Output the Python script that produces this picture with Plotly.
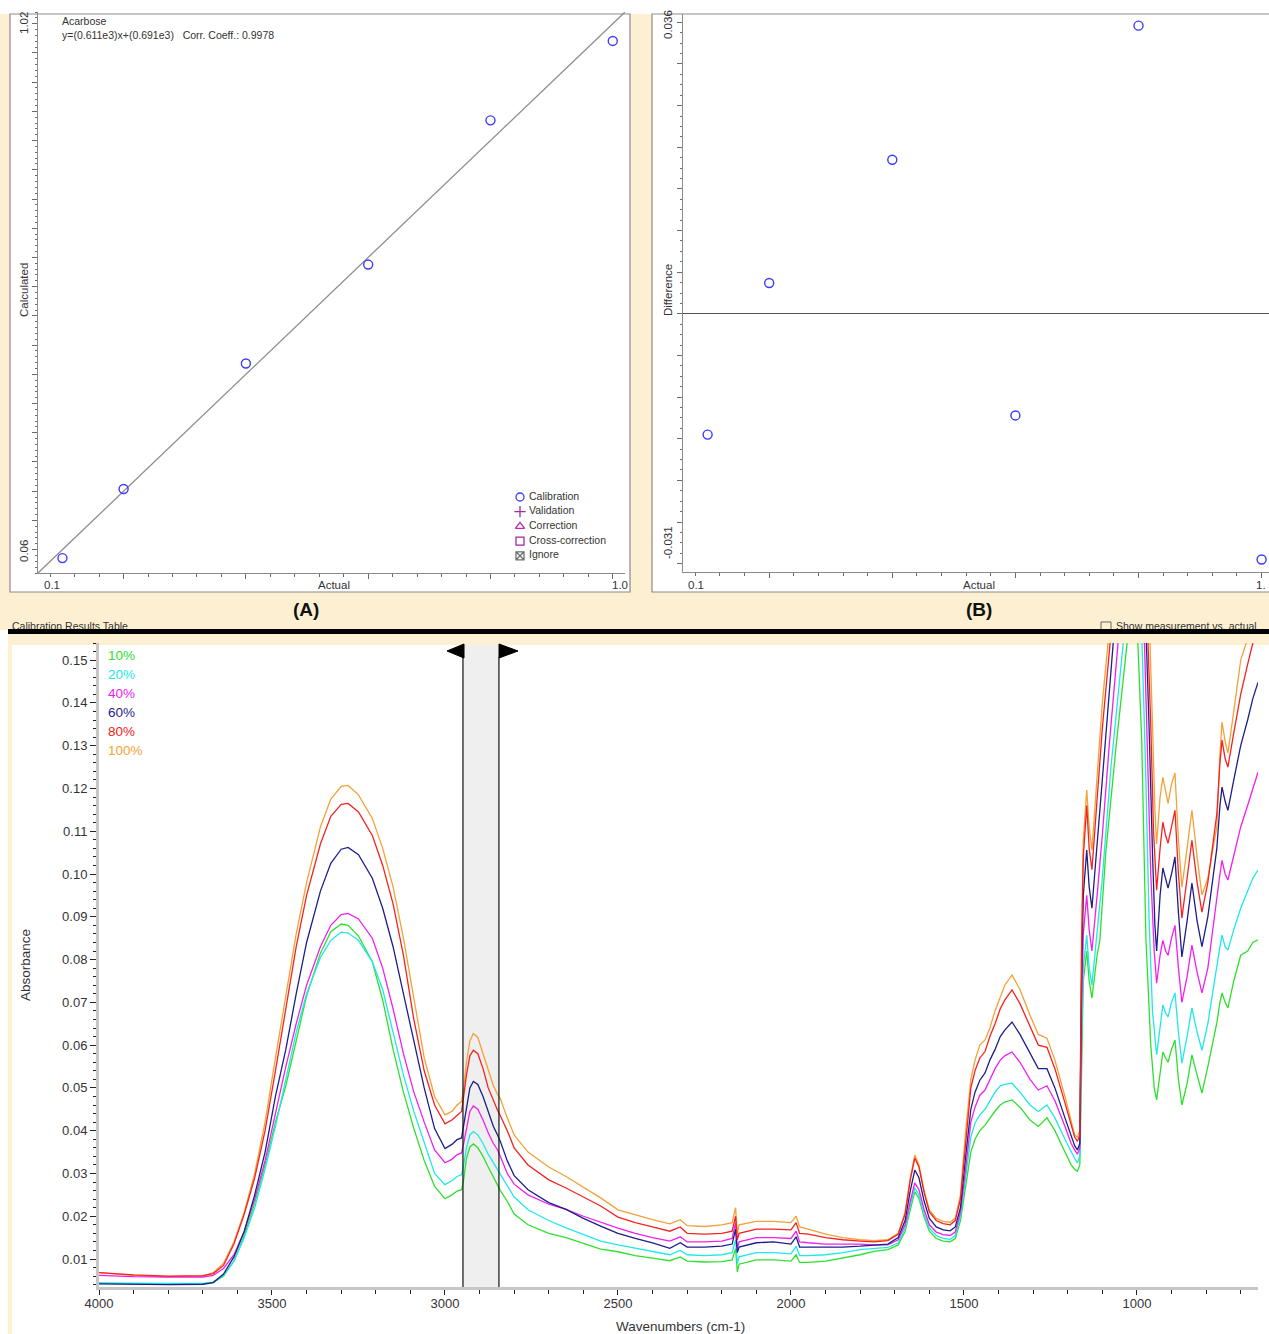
import plotly.graph_objects as go

W, H = 1269, 1334

# ---------------- calibration data (panels A and B) ----------------
actual = [0.1, 0.2, 0.4, 0.6, 0.8, 1.0]
calculated = [0.0855, 0.2037, 0.4185, 0.5878, 0.8346, 0.9705]
difference = [-0.0145, 0.0037, 0.0185, -0.0122, 0.0346, -0.0295]
fit_x = [0.06, 1.02]
fit_y = [0.06, 1.02]
calib_range = [0.06, 1.02]
diff_range = [-0.031, 0.036]

calib_legend = ["Calibration", "Validation", "Correction", "Cross-correction", "Ignore"]

# ---------------- spectra (wavenumber cm-1, absorbance) ----------------
spec_10 = [(4000, 0.0043), (3900, 0.0042), (3800, 0.0041), (3700, 0.0042), (3670, 0.0045), (3640, 0.0060), (3610, 0.0095), (3580, 0.0155), (3550, 0.0230), (3520, 0.0320), (3490, 0.0420), (3460, 0.0505), (3430, 0.0610), (3400, 0.0715), (3360, 0.0815), (3330, 0.0865), (3300, 0.0883), (3280, 0.0880), (3250, 0.0855), (3210, 0.0795), (3180, 0.0705), (3150, 0.0590), (3120, 0.0490), (3090, 0.0405), (3060, 0.0330), (3030, 0.0270), (3000, 0.0241),
           (2980, 0.0250), (2965, 0.0259), (2952, 0.0262), (2946, 0.0285), (2938, 0.0335), (2928, 0.0362), (2918, 0.0369), (2905, 0.0360), (2890, 0.0340), (2875, 0.0315), (2860, 0.0290), (2848, 0.0270), (2840, 0.0260), (2820, 0.0235), (2800, 0.0205), (2760, 0.0180), (2700, 0.0160), (2650, 0.0150), (2600, 0.0137), (2550, 0.0123),
           (2500, 0.0117), (2450, 0.0108), (2400, 0.0102), (2350, 0.0096), (2320, 0.0105), (2300, 0.0095), (2250, 0.0093), (2200, 0.0094), (2170, 0.0098), (2160, 0.0125), (2155, 0.0070), (2150, 0.0088), (2100, 0.0098), (2050, 0.0098), (2000, 0.0095), (1985, 0.0110), (1975, 0.0092), (1950, 0.0092), (1900, 0.0095), (1850, 0.0102), (1800, 0.0110),
           (1760, 0.0118), (1720, 0.0122), (1690, 0.0133), (1670, 0.0165), (1655, 0.0215), (1642, 0.0257), (1630, 0.0242), (1615, 0.0198), (1600, 0.0165), (1580, 0.0148), (1560, 0.0142), (1540, 0.0140), (1525, 0.0148),
           (1510, 0.0190), (1495, 0.0270), (1480, 0.0350), (1468, 0.0380), (1454, 0.0400), (1439, 0.0413), (1425, 0.0430), (1410, 0.0446), (1395, 0.0460), (1382, 0.0467), (1361, 0.0472), (1338, 0.0455), (1309, 0.0425), (1285, 0.0410), (1260, 0.0430), (1237, 0.0400), (1208, 0.0350), (1190, 0.0320), (1180, 0.0310),
           (1172, 0.0305), (1165, 0.0320), (1160, 0.0580), (1155, 0.0750), (1145, 0.0820), (1138, 0.0750), (1130, 0.0710), (1115, 0.0810), (1107, 0.0846), (1090, 0.1050), (1060, 0.1300), (1029, 0.1535), (1013, 0.1700), (997, 0.1535), (986, 0.1310), (974, 0.0850), (960, 0.0600), (950, 0.0500), (943, 0.0472),
           (933, 0.0540), (925, 0.0584), (917, 0.0570), (910, 0.0560), (900, 0.0590), (890, 0.0612), (880, 0.0520), (870, 0.0460), (855, 0.0510), (841, 0.0577), (826, 0.0530), (812, 0.0488), (795, 0.0550), (780, 0.0610), (769, 0.0652), (760, 0.0700), (754, 0.0722), (745, 0.0700), (737, 0.0687), (720, 0.0750), (700, 0.0810), (680, 0.0820), (665, 0.0840), (650, 0.0846)]

spec_20 = [(4000, 0.0044), (3900, 0.0043), (3800, 0.0043), (3700, 0.0043), (3670, 0.0046), (3640, 0.0062), (3610, 0.0095), (3580, 0.0150), (3550, 0.0220), (3520, 0.0310), (3490, 0.0410), (3460, 0.0520), (3430, 0.0630), (3400, 0.0720), (3360, 0.0805), (3330, 0.0845), (3300, 0.0864), (3280, 0.0862), (3250, 0.0845), (3210, 0.0795), (3180, 0.0730), (3150, 0.0630), (3120, 0.0530), (3090, 0.0445), (3060, 0.0370), (3030, 0.0300), (3000, 0.0274),
           (2980, 0.0283), (2965, 0.0293), (2952, 0.0297), (2946, 0.0320), (2938, 0.0360), (2928, 0.0390), (2918, 0.0398), (2905, 0.0390), (2890, 0.0370), (2875, 0.0345), (2860, 0.0325), (2848, 0.0310), (2840, 0.0300), (2820, 0.0270), (2800, 0.0245), (2760, 0.0215), (2700, 0.0190), (2650, 0.0173), (2600, 0.0157), (2550, 0.0142),
           (2500, 0.0133), (2450, 0.0125), (2400, 0.0118), (2350, 0.0110), (2320, 0.0120), (2300, 0.0110), (2250, 0.0108), (2200, 0.0110), (2170, 0.0115), (2160, 0.0145), (2155, 0.0090), (2150, 0.0105), (2100, 0.0115), (2050, 0.0115), (2000, 0.0112), (1985, 0.0130), (1975, 0.0108), (1950, 0.0108), (1900, 0.0110), (1850, 0.0115), (1800, 0.0122),
           (1760, 0.0125), (1720, 0.0127), (1690, 0.0138), (1670, 0.0172), (1655, 0.0225), (1642, 0.0266), (1630, 0.0250), (1615, 0.0205), (1600, 0.0172), (1580, 0.0155), (1560, 0.0148), (1540, 0.0146), (1525, 0.0155),
           (1510, 0.0200), (1495, 0.0290), (1480, 0.0385), (1468, 0.0418), (1454, 0.0437), (1439, 0.0450), (1425, 0.0470), (1410, 0.0490), (1395, 0.0505), (1382, 0.0508), (1361, 0.0511), (1338, 0.0490), (1309, 0.0460), (1285, 0.0445), (1260, 0.0460), (1237, 0.0430), (1208, 0.0380), (1190, 0.0350), (1180, 0.0335),
           (1172, 0.0325), (1165, 0.0340), (1160, 0.0620), (1155, 0.0780), (1145, 0.0857), (1138, 0.0780), (1130, 0.0740), (1115, 0.0860), (1100, 0.0990), (1075, 0.1250), (1040, 0.1535), (1015, 0.1850), (995, 0.1700), (985, 0.1535), (975, 0.1250), (965, 0.0900), (955, 0.0680), (943, 0.0577),
           (933, 0.0650), (925, 0.0694), (917, 0.0675), (910, 0.0666), (900, 0.0700), (890, 0.0722), (880, 0.0630), (870, 0.0558), (855, 0.0620), (841, 0.0687), (826, 0.0630), (812, 0.0588), (795, 0.0650), (780, 0.0730), (769, 0.0780), (760, 0.0830), (754, 0.0857), (745, 0.0830), (737, 0.0822), (720, 0.0870), (700, 0.0920), (680, 0.0960), (665, 0.0990), (650, 0.1009)]

spec_40 = [(4000, 0.0062), (3900, 0.0059), (3800, 0.0058), (3700, 0.0058), (3670, 0.0062), (3640, 0.0078), (3610, 0.0110), (3580, 0.0165), (3550, 0.0240), (3520, 0.0330), (3490, 0.0440), (3460, 0.0550), (3430, 0.0650), (3400, 0.0740), (3360, 0.0830), (3330, 0.0880), (3300, 0.0905), (3280, 0.0908), (3250, 0.0895), (3210, 0.0850), (3180, 0.0780), (3150, 0.0685), (3120, 0.0580), (3090, 0.0490), (3060, 0.0420), (3030, 0.0355), (3000, 0.0325),
           (2980, 0.0333), (2965, 0.0344), (2952, 0.0348), (2946, 0.0370), (2938, 0.0405), (2928, 0.0445), (2918, 0.0458), (2905, 0.0450), (2890, 0.0425), (2875, 0.0395), (2860, 0.0370), (2848, 0.0355), (2840, 0.0340), (2820, 0.0300), (2800, 0.0275), (2760, 0.0250), (2700, 0.0228), (2650, 0.0216), (2600, 0.0200), (2550, 0.0186),
           (2500, 0.0172), (2450, 0.0160), (2400, 0.0150), (2350, 0.0142), (2320, 0.0152), (2300, 0.0140), (2250, 0.0140), (2200, 0.0142), (2170, 0.0148), (2160, 0.0185), (2155, 0.0125), (2150, 0.0140), (2100, 0.0150), (2050, 0.0150), (2000, 0.0148), (1985, 0.0165), (1975, 0.0140), (1950, 0.0138), (1900, 0.0135), (1850, 0.0135), (1800, 0.0135),
           (1760, 0.0133), (1720, 0.0133), (1690, 0.0145), (1670, 0.0180), (1655, 0.0235), (1642, 0.0278), (1630, 0.0262), (1615, 0.0215), (1600, 0.0180), (1580, 0.0163), (1560, 0.0157), (1540, 0.0155), (1525, 0.0163),
           (1510, 0.0210), (1495, 0.0310), (1480, 0.0420), (1468, 0.0455), (1454, 0.0483), (1439, 0.0495), (1425, 0.0520), (1410, 0.0545), (1395, 0.0565), (1382, 0.0575), (1361, 0.0584), (1338, 0.0560), (1309, 0.0520), (1285, 0.0495), (1260, 0.0505), (1237, 0.0470), (1208, 0.0410), (1190, 0.0370), (1180, 0.0355),
           (1172, 0.0345), (1165, 0.0360), (1160, 0.0680), (1155, 0.0860), (1145, 0.0950), (1138, 0.0870), (1130, 0.0820), (1115, 0.0950), (1100, 0.1090), (1080, 0.1300), (1055, 0.1535), (1030, 0.1850), (1010, 0.2000), (990, 0.1800), (978, 0.1535), (970, 0.1300), (960, 0.1000), (950, 0.0820), (943, 0.0745),
           (933, 0.0810), (925, 0.0845), (917, 0.0820), (910, 0.0810), (900, 0.0850), (890, 0.0880), (880, 0.0780), (870, 0.0700), (855, 0.0760), (841, 0.0834), (826, 0.0770), (812, 0.0722), (795, 0.0780), (780, 0.0880), (769, 0.0940), (760, 0.1000), (754, 0.1032), (745, 0.1000), (737, 0.0986), (720, 0.1040), (700, 0.1110), (680, 0.1160), (665, 0.1200), (650, 0.1238)]

spec_60 = [(4000, 0.0042), (3900, 0.0041), (3800, 0.0040), (3700, 0.0041), (3670, 0.0045), (3640, 0.0065), (3610, 0.0105), (3580, 0.0165), (3550, 0.0250), (3520, 0.0350), (3490, 0.0480), (3460, 0.0590), (3430, 0.0720), (3400, 0.0840), (3360, 0.0960), (3330, 0.1025), (3300, 0.1058), (3280, 0.1062), (3250, 0.1045), (3210, 0.0990), (3180, 0.0920), (3150, 0.0830), (3120, 0.0720), (3090, 0.0615), (3060, 0.0500), (3030, 0.0405), (3000, 0.0358),
           (2980, 0.0368), (2965, 0.0379), (2952, 0.0383), (2946, 0.0410), (2938, 0.0450), (2928, 0.0500), (2918, 0.0515), (2905, 0.0508), (2890, 0.0480), (2875, 0.0445), (2860, 0.0410), (2848, 0.0390), (2840, 0.0375), (2820, 0.0330), (2800, 0.0295), (2760, 0.0262), (2700, 0.0232), (2650, 0.0216), (2600, 0.0195), (2550, 0.0177),
           (2500, 0.0160), (2450, 0.0148), (2400, 0.0138), (2350, 0.0125), (2320, 0.0138), (2300, 0.0128), (2250, 0.0128), (2200, 0.0130), (2170, 0.0135), (2160, 0.0170), (2155, 0.0115), (2150, 0.0128), (2100, 0.0138), (2050, 0.0140), (2000, 0.0135), (1985, 0.0152), (1975, 0.0128), (1950, 0.0128), (1900, 0.0128), (1850, 0.0128), (1800, 0.0130),
           (1760, 0.0133), (1720, 0.0135), (1690, 0.0150), (1670, 0.0190), (1655, 0.0260), (1642, 0.0308), (1630, 0.0290), (1615, 0.0235), (1600, 0.0195), (1580, 0.0175), (1560, 0.0168), (1540, 0.0166), (1525, 0.0175),
           (1510, 0.0220), (1495, 0.0340), (1480, 0.0450), (1468, 0.0490), (1454, 0.0518), (1439, 0.0535), (1425, 0.0565), (1410, 0.0590), (1395, 0.0620), (1382, 0.0635), (1361, 0.0654), (1338, 0.0625), (1309, 0.0580), (1285, 0.0545), (1260, 0.0545), (1237, 0.0500), (1208, 0.0430), (1190, 0.0385), (1180, 0.0365),
           (1172, 0.0355), (1165, 0.0370), (1160, 0.0750), (1155, 0.0950), (1145, 0.1056), (1138, 0.0970), (1130, 0.0920), (1115, 0.1060), (1100, 0.1220), (1069, 0.1535), (1045, 0.1850), (1020, 0.2200), (995, 0.2100), (980, 0.1750), (972, 0.1535), (965, 0.1350), (955, 0.1050), (948, 0.0880), (943, 0.0820),
           (933, 0.0950), (925, 0.1014), (917, 0.0990), (910, 0.0967), (900, 0.1000), (890, 0.1040), (880, 0.0910), (870, 0.0806), (855, 0.0890), (841, 0.0979), (826, 0.0890), (812, 0.0830), (795, 0.0900), (780, 0.1000), (769, 0.1060), (760, 0.1160), (754, 0.1203), (745, 0.1170), (737, 0.1149), (720, 0.1220), (700, 0.1300), (680, 0.1360), (665, 0.1410), (650, 0.1448)]

spec_80 = [(4000, 0.0068), (3900, 0.0063), (3800, 0.0060), (3700, 0.0061), (3670, 0.0066), (3640, 0.0085), (3610, 0.0135), (3580, 0.0205), (3550, 0.0290), (3520, 0.0400), (3490, 0.0540), (3460, 0.0690), (3430, 0.0830), (3400, 0.0950), (3360, 0.1070), (3330, 0.1135), (3300, 0.1163), (3280, 0.1165), (3250, 0.1145), (3210, 0.1090), (3180, 0.1020), (3150, 0.0930), (3120, 0.0810), (3090, 0.0660), (3060, 0.0540), (3030, 0.0460), (3000, 0.0416),
           (2980, 0.0425), (2965, 0.0437), (2952, 0.0445), (2946, 0.0480), (2938, 0.0530), (2928, 0.0575), (2918, 0.0588), (2905, 0.0580), (2890, 0.0545), (2875, 0.0500), (2860, 0.0470), (2848, 0.0448), (2840, 0.0435), (2820, 0.0400), (2800, 0.0360), (2760, 0.0320), (2700, 0.0285), (2650, 0.0266), (2600, 0.0245), (2550, 0.0224),
           (2500, 0.0198), (2450, 0.0185), (2400, 0.0175), (2350, 0.0165), (2320, 0.0175), (2300, 0.0160), (2250, 0.0158), (2200, 0.0160), (2170, 0.0165), (2160, 0.0200), (2155, 0.0145), (2150, 0.0160), (2100, 0.0170), (2050, 0.0170), (2000, 0.0168), (1985, 0.0185), (1975, 0.0160), (1950, 0.0158), (1900, 0.0150), (1850, 0.0145), (1800, 0.0142),
           (1760, 0.0140), (1720, 0.0143), (1690, 0.0158), (1670, 0.0205), (1655, 0.0285), (1642, 0.0336), (1630, 0.0315), (1615, 0.0255), (1600, 0.0210), (1580, 0.0190), (1560, 0.0183), (1540, 0.0180), (1525, 0.0190),
           (1510, 0.0240), (1495, 0.0380), (1480, 0.0500), (1468, 0.0540), (1454, 0.0570), (1439, 0.0585), (1425, 0.0620), (1410, 0.0650), (1395, 0.0685), (1382, 0.0705), (1361, 0.0729), (1338, 0.0697), (1309, 0.0645), (1285, 0.0600), (1260, 0.0595), (1237, 0.0545), (1208, 0.0465), (1190, 0.0410), (1180, 0.0385),
           (1172, 0.0375), (1165, 0.0390), (1160, 0.0820), (1155, 0.1040), (1145, 0.1160), (1138, 0.1060), (1130, 0.1010), (1115, 0.1180), (1100, 0.1340), (1078, 0.1535), (1055, 0.1850), (1025, 0.2350), (1000, 0.2300), (978, 0.1800), (968, 0.1535), (960, 0.1350), (952, 0.1100), (943, 0.0962),
           (933, 0.1060), (925, 0.1121), (917, 0.1090), (910, 0.1072), (900, 0.1110), (890, 0.1149), (880, 0.1000), (870, 0.0897), (855, 0.0990), (841, 0.1079), (826, 0.0980), (812, 0.0911), (795, 0.0980), (780, 0.1080), (769, 0.1140), (760, 0.1260), (754, 0.1313), (745, 0.1270), (737, 0.1250), (720, 0.1330), (700, 0.1420), (680, 0.1490), (665, 0.1540), (650, 0.1580)]

spec_100 = [(4000, 0.0068), (3900, 0.0062), (3800, 0.0059), (3700, 0.0060), (3670, 0.0068), (3640, 0.0090), (3610, 0.0140), (3580, 0.0210), (3550, 0.0300), (3520, 0.0420), (3490, 0.0570), (3460, 0.0720), (3430, 0.0860), (3400, 0.0980), (3360, 0.1110), (3330, 0.1175), (3300, 0.1205), (3280, 0.1207), (3250, 0.1185), (3210, 0.1130), (3180, 0.1060), (3150, 0.0970), (3120, 0.0850), (3090, 0.0710), (3060, 0.0570), (3030, 0.0480), (3000, 0.0437),
            (2980, 0.0445), (2965, 0.0460), (2952, 0.0468), (2946, 0.0500), (2938, 0.0560), (2928, 0.0610), (2918, 0.0627), (2905, 0.0618), (2890, 0.0580), (2875, 0.0540), (2860, 0.0505), (2848, 0.0485), (2840, 0.0475), (2820, 0.0430), (2800, 0.0390), (2760, 0.0350), (2700, 0.0315), (2650, 0.0293), (2600, 0.0268), (2550, 0.0243),
            (2500, 0.0215), (2450, 0.0203), (2400, 0.0192), (2350, 0.0182), (2320, 0.0192), (2300, 0.0178), (2250, 0.0176), (2200, 0.0180), (2170, 0.0185), (2160, 0.0220), (2155, 0.0160), (2150, 0.0180), (2100, 0.0188), (2050, 0.0188), (2000, 0.0185), (1985, 0.0200), (1975, 0.0175), (1950, 0.0170), (1900, 0.0158), (1850, 0.0150), (1800, 0.0145),
            (1760, 0.0143), (1720, 0.0145), (1690, 0.0160), (1670, 0.0210), (1655, 0.0290), (1642, 0.0343), (1630, 0.0320), (1615, 0.0260), (1600, 0.0215), (1580, 0.0195), (1560, 0.0188), (1540, 0.0186), (1525, 0.0195),
            (1510, 0.0250), (1495, 0.0400), (1480, 0.0520), (1468, 0.0565), (1454, 0.0600), (1439, 0.0612), (1425, 0.0640), (1410, 0.0680), (1395, 0.0710), (1382, 0.0740), (1361, 0.0764), (1338, 0.0730), (1309, 0.0670), (1285, 0.0625), (1260, 0.0616), (1237, 0.0565), (1208, 0.0480), (1190, 0.0420), (1180, 0.0390),
            (1172, 0.0385), (1165, 0.0400), (1160, 0.0850), (1155, 0.1080), (1145, 0.1196), (1138, 0.1110), (1130, 0.1056), (1115, 0.1240), (1100, 0.1400), (1084, 0.1535), (1060, 0.1850), (1025, 0.2450), (1000, 0.2400), (975, 0.1850), (962, 0.1535), (955, 0.1350), (948, 0.1150), (943, 0.1070),
            (933, 0.1180), (925, 0.1226), (917, 0.1190), (910, 0.1165), (900, 0.1210), (890, 0.1236), (880, 0.1080), (870, 0.0969), (855, 0.1060), (841, 0.1149), (826, 0.1040), (812, 0.0951), (795, 0.0990), (780, 0.1060), (769, 0.1110), (760, 0.1280), (754, 0.1355), (745, 0.1310), (737, 0.1283), (720, 0.1380), (700, 0.1500), (680, 0.1550), (665, 0.1600), (650, 0.1650)]

series_labels = ["10%", "20%", "40%", "60%", "80%", "100%"]
series_colors = ["#2ee02e", "#20e8e8", "#f020f0", "#1e1e8a", "#f52222", "#f2a236"]
series_data = [spec_10, spec_20, spec_40, spec_60, spec_80, spec_100]
wn_range = [4000, 650]
abs_range = [0.00346, 0.1540]
band = [2948, 2844]

# ---------------- helpers (pixel -> paper) ----------------
def fx(px):
    return px / W

def fy(py):
    return 1 - py / H

FONT = "Liberation Sans, Arial, sans-serif"
fig = go.Figure()

# panel A
fig.add_trace(go.Scatter(x=fit_x, y=fit_y, mode="lines", line=dict(color="#8e8e8e", width=1.3),
                         xaxis="x", yaxis="y", hoverinfo="skip"))
fig.add_trace(go.Scatter(x=actual, y=calculated, mode="markers",
                         marker=dict(symbol="circle-open", size=9, color="#3b3bff", line=dict(width=1.4)),
                         xaxis="x", yaxis="y"))
# panel B
fig.add_trace(go.Scatter(x=actual, y=difference, mode="markers",
                         marker=dict(symbol="circle-open", size=9, color="#3b3bff", line=dict(width=1.4)),
                         xaxis="x2", yaxis="y2"))

# spectra
order = [5, 0, 1, 2, 3, 4]
for i in order:
    pts = series_data[i]
    fig.add_trace(go.Scatter(x=[p[0] for p in pts], y=[p[1] for p in pts], mode="lines",
                             line=dict(color=series_colors[i], width=1.3),
                             name=series_labels[i], xaxis="x3", yaxis="y3"))

# overlay (pixel coordinates of the top area) for legend glyphs and clipped texts
leg_sym = ["circle-open", "cross-thin-open", "triangle-up-open", "square-open", "square-x-open"]
leg_col = ["#3b3bff", "#a02aa0", "#b030b0", "#a02aa0", "#707070"]
for k in range(5):
    fig.add_trace(go.Scatter(x=[520], y=[497 + 14.7 * k], mode="markers",
                             marker=dict(symbol=leg_sym[k], size=8, color=leg_col[k], line=dict(width=1.3, color=leg_col[k])),
                             xaxis="x4", yaxis="y4", hoverinfo="skip"))
    fig.add_trace(go.Scatter(x=[529], y=[497 + 14.7 * k], mode="text", text=[calib_legend[k]],
                             textposition="middle right", textfont=dict(family=FONT, size=10.5, color="#333333"),
                             xaxis="x4", yaxis="y4", hoverinfo="skip"))
fig.add_trace(go.Scatter(x=[12], y=[627], mode="text", text=["Calibration Results Table"],
                         textposition="middle right", textfont=dict(family=FONT, size=10.5, color="#333333"),
                         xaxis="x4", yaxis="y4", hoverinfo="skip"))
fig.add_trace(go.Scatter(x=[1106], y=[627], mode="markers",
                         marker=dict(symbol="square-open", size=10, color="#666666", line=dict(width=1)),
                         xaxis="x4", yaxis="y4", hoverinfo="skip"))
fig.add_trace(go.Scatter(x=[1116], y=[627], mode="text", text=["Show measurement vs. actual"],
                         textposition="middle right", textfont=dict(family=FONT, size=10.5, color="#333333"),
                         xaxis="x4", yaxis="y4", hoverinfo="skip"))

axis_common = dict(showgrid=False, zeroline=False, showline=True, linecolor="#8a8a8a", linewidth=1,
                   ticks="outside", tickcolor="#6a6a6a", ticklen=5, showticklabels=False, automargin=False)

layout = dict(
    template="none",
    width=W, height=H, autosize=False,
    margin=dict(l=0, r=0, t=0, b=0, pad=0, autoexpand=False),
    paper_bgcolor="white", plot_bgcolor="rgba(0,0,0,0)", showlegend=False,
    font=dict(family=FONT, color="#333333"),
    xaxis=dict(domain=[fx(38), fx(625)], range=calib_range, anchor="y", tick0=0, dtick=0.2,
               minor=dict(tick0=0, dtick=0.04, ticks="outside", ticklen=3, tickcolor="#6a6a6a"), **axis_common),
    yaxis=dict(domain=[fy(573), fy(12)], range=calib_range, anchor="x", tick0=0, dtick=0.05,
               minor=dict(tick0=0, dtick=0.01, ticks="outside", ticklen=2, tickcolor="#6a6a6a"), **axis_common),
    xaxis2=dict(domain=[fx(683), 1.0], range=[0.06, 1.012], anchor="y2", tick0=0, dtick=0.2,
                minor=dict(tick0=0, dtick=0.04, ticks="outside", ticklen=3, tickcolor="#6a6a6a"), **axis_common),
    yaxis2=dict(domain=[fy(572), fy(14)], range=diff_range, anchor="x2", tick0=0, dtick=0.005,
                minor=dict(tick0=0, dtick=0.00125, ticks="outside", ticklen=2, tickcolor="#6a6a6a"),
                **{k: v for k, v in axis_common.items() if k != "zeroline"},
                zeroline=True, zerolinecolor="#555555", zerolinewidth=1),
    xaxis3=dict(domain=[fx(99), fx(1258)], range=wn_range, anchor="y3", showgrid=False, zeroline=False,
                showline=True, linecolor="#c6c6c6", linewidth=3, ticks="outside", ticklen=5, tickcolor="#222222",
                tick0=0, dtick=500, tickfont=dict(size=13, color="#333333"), automargin=False,
                ticklabelstandoff=-3,
                minor=dict(tick0=0, dtick=100, ticks="outside", ticklen=4, tickcolor="#222222")),
    yaxis3=dict(domain=[fy(1287), fy(643)], range=abs_range, anchor="x3", showgrid=False, zeroline=False,
                showline=True, linecolor="#c6c6c6", linewidth=3, ticks="outside", ticklen=6, tickcolor="#222222",
                tick0=0, dtick=0.01, tickformat=".2f", tickfont=dict(size=13, color="#333333"), automargin=False,
                minor=dict(tick0=0, dtick=0.002, ticks="outside", ticklen=3, tickcolor="#222222")),
    xaxis4=dict(domain=[0, 1], range=[0, W], anchor="y4", visible=False, fixedrange=True, automargin=False),
    yaxis4=dict(domain=[fy(630), fy(14)], range=[630, 14], anchor="x4", visible=False, fixedrange=True, automargin=False),
)

def rect(x0, y0, x1, y1, fill, line_color=None, lw=0, layer="below"):
    return dict(type="rect", xref="paper", yref="paper", x0=fx(x0), x1=fx(x1), y0=fy(y1), y1=fy(y0),
                fillcolor=fill, line=dict(color=line_color or fill, width=lw), layer=layer)

YEL = "#fdf0d2"
shapes = [
    rect(0, 14, W, 630, YEL),
    rect(10, 14, 630, 592, "white", "#8c8c8c", 1.2),
    rect(652, 14, W + 5, 592, "white", "#8c8c8c", 1.2),
    rect(10, 634, W, 645, YEL),
    rect(8, 634, 12, H, YEL),
    dict(type="rect", xref="x3", yref="paper", x0=band[0], x1=band[1], y0=fy(1287), y1=fy(645),
         fillcolor="#efefef", line=dict(width=0), layer="below"),
    dict(type="line", xref="x3", yref="paper", x0=band[0], x1=band[0], y0=fy(1287), y1=fy(657),
         line=dict(color="#111111", width=1.2), layer="above"),
    dict(type="line", xref="x3", yref="paper", x0=band[1], x1=band[1], y0=fy(1287), y1=fy(657),
         line=dict(color="#111111", width=1.2), layer="above"),
    dict(type="path", xref="paper", yref="paper",
         path=f"M {fx(447)},{fy(651)} L {fx(464)},{fy(644)} L {fx(464)},{fy(658)} Z",
         fillcolor="black", line=dict(color="black", width=1), layer="above"),
    dict(type="path", xref="paper", yref="paper",
         path=f"M {fx(518)},{fy(651)} L {fx(499)},{fy(644)} L {fx(499)},{fy(658)} Z",
         fillcolor="black", line=dict(color="black", width=1), layer="above"),
    rect(8, 629, W, 634, "black", layer="above"),
]
layout["shapes"] = shapes

def ann(x, y, text, size=11, color="#333333", angle=0, xanchor="center", bold=False):
    t = f"<b>{text}</b>" if bold else text
    return dict(x=fx(x), y=fy(y), xref="paper", yref="paper", text=t, showarrow=False,
                font=dict(family=FONT, size=size, color=color), textangle=angle,
                xanchor=xanchor, yanchor="middle")

anns = [
    ann(60, 21, "Acarbose", 10.5, xanchor="left"),
    ann(60, 35, "y=(0.611e3)x+(0.691e3)&nbsp;&nbsp; Corr. Coeff.: 0.9978", 10.5, xanchor="left"),
    ann(24, 23, "1.02", 11.5, angle=-90),
    ann(24, 551, "0.06", 11.5, angle=-90),
    ann(24, 290, "Calculated", 11.5, angle=-90),
    ann(52, 585, "0.1", 11.5),
    ann(620, 585, "1.0", 11.5),
    ann(334, 585, "Actual", 11.5),
    ann(668, 25, "0.036", 11.5, angle=-90),
    ann(668, 543, "-0.031", 11.5, angle=-90),
    ann(668, 290, "Difference", 11.5, angle=-90),
    ann(696, 585, "0.1", 11.5),
    ann(1268, 585, "1.", 11.5, xanchor="right"),
    ann(979, 585, "Actual", 11.5),
    ann(306, 609, "(A)", 19, color="#111111", bold=True),
    ann(979, 609, "(B)", 19, color="#111111", bold=True),
    ann(25, 965, "Absorbance", 13.5, angle=-90),
    ann(680, 1326, "Wavenumbers (cm-1)", 13.5),
]
for k, lab in enumerate(series_labels):
    anns.append(ann(106, 655 + 19 * k, lab, 13.5, color=series_colors[k], xanchor="left"))
layout["annotations"] = anns

fig.update_layout(**layout)
fig.write_html("out.html")
